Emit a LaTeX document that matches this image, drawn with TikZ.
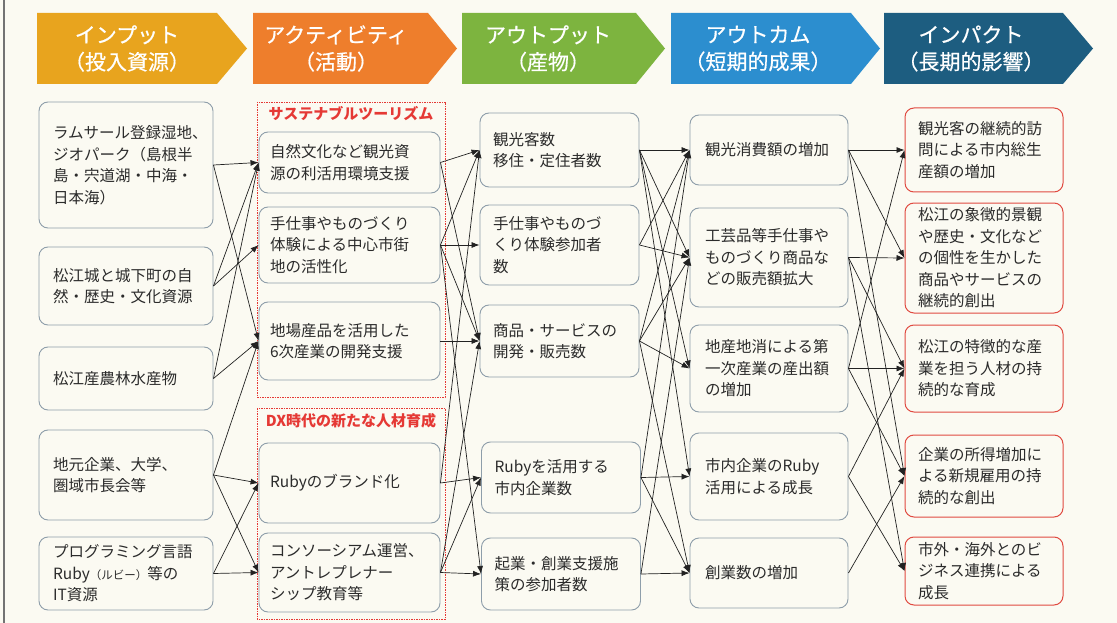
\documentclass[tikz,border=0pt]{standalone}
\usepackage{fontspec}
\setmainfont{Noto Sans CJK JP}
\usetikzlibrary{arrows.meta}
\definecolor{bgc}{HTML}{FBFAF2}
\definecolor{boxc}{HTML}{8E9EAA}
\definecolor{pred}{HTML}{E04A40}
\definecolor{txt}{HTML}{2B2B2B}
\definecolor{linec}{HTML}{222222}
\definecolor{rdash}{HTML}{E53935}
\definecolor{h1c}{HTML}{E8A41E}
\definecolor{h2c}{HTML}{EE7E2C}
\definecolor{h3c}{HTML}{7DB43F}
\definecolor{h4c}{HTML}{2C8ECF}
\definecolor{h5c}{HTML}{1D5D80}
\begin{document}
\begin{tikzpicture}[x=1pt,y=-1pt,
  box/.style={draw=boxc, line width=0.9pt, rounded corners=9pt, align=left, text=txt,
    font=\fontsize{15.5}{21.5}\selectfont, inner ysep=2pt},
  pbox/.style={box, draw=pred, line width=1pt},
  conn/.style={draw=linec, line width=0.7pt, -{Latex[length=8pt,width=6pt]}},
  hdr/.style={text=white, align=center, font=\fontsize{21}{27}\selectfont\addfontfeature{FakeBold=0.6}},
  grp/.style={draw=rdash, line width=0.6pt, dash pattern=on 1.5pt off 1pt},
  grpt/.style={text=rdash, font=\bfseries\fontsize{15}{17}\selectfont}
]
\fill[bgc] (0,0) rectangle (1117,623);
\useasboundingbox (0,0) rectangle (1117,623);
\draw[black!55, line width=1.2pt] (4,0) -- (4,623);

% headers
\fill[h1c] (37,13) -- (217,13) -- (247,48.5) -- (217,84) -- (37,84) -- cycle;
\fill[h2c] (253,13) -- (428,13) -- (457,48.5) -- (428,84) -- (253,84) -- cycle;
\fill[h3c] (462,13) -- (636,13) -- (665,48.5) -- (636,84) -- (462,84) -- cycle;
\fill[h4c] (671,13) -- (851,13) -- (880,48.5) -- (851,84) -- (671,84) -- cycle;
\fill[h5c] (884,13) -- (1063,13) -- (1093,48.5) -- (1063,84) -- (884,84) -- cycle;
\node[hdr] (h1) at (127,48.5) {インプット\\（投入資源）};
\node[hdr] (h2) at (336,48.5) {アクティビティ\\（活動）};
\node[hdr] (h3) at (548,48.5) {アウトプット\\（産物）};
\node[hdr] (h4) at (758,48.5) {アウトカム\\（短期的成果）};
\node[hdr] (h5) at (971,48.5) {インパクト\\（長期的影響）};

% group frames
\draw[grp] (257,102) rectangle (445,397);
\draw[grp] (257,408) rectangle (445,619);
\node[grpt] (g1) at (351,114) {サステナブルツーリズム};
\node[grpt] (g2) at (351,421) {DX時代の新たな人材育成};

% inputs
\node[box, minimum width=174pt, minimum height=126pt, text width=146pt] (I1) at (126,165)
  {ラムサール登録湿地、\\ジオパーク（島根半\\島・宍道湖・中海・\\日本海）};
\node[box, minimum width=174pt, minimum height=78pt, text width=146pt] (I2) at (126,286)
  {松江城と城下町の自\\然・歴史・文化資源};
\node[box, minimum width=174pt, minimum height=63pt, text width=146pt] (I3) at (126,378.5)
  {松江産農林水産物};
\node[box, minimum width=174pt, minimum height=90pt, text width=146pt] (I4) at (126,475)
  {地元企業、大学、\\圏域市長会等};
\node[box, minimum width=174pt, minimum height=73pt, text width=146pt] (I5) at (126,573.5)
  {プログラミング言語\\Ruby{\fontsize{11.5}{12}\selectfont（ルビー）}等の\\IT資源};

% activities
\node[box, minimum width=181pt, minimum height=61pt, text width=159pt] (A1) at (349.5,162.5)
  {自然文化など観光資\\源の利活用環境支援};
\node[box, minimum width=181pt, minimum height=76pt, text width=159pt] (A2) at (349.5,245)
  {手仕事やものづくり\\体験による中心市街\\地の活性化};
\node[box, minimum width=181pt, minimum height=78pt, text width=159pt] (A3) at (349.5,341)
  {地場産品を活用した\\6次産業の開発支援};
\node[box, minimum width=181pt, minimum height=80pt, text width=159pt] (A4) at (349.5,483)
  {Rubyのブランド化};
\node[box, minimum width=181pt, minimum height=79pt, text width=159pt] (A5) at (349.5,572.5)
  {コンソーシアム運営、\\アントレプレナー\\シップ教育等};

% outputs
\node[box, minimum width=159pt, minimum height=74pt, text width=133pt] (O1) at (559.5,150)
  {観光客数\\移住・定住者数};
\node[box, minimum width=159pt, minimum height=80pt, text width=133pt] (O2) at (559.5,245)
  {手仕事やものづ\\くり体験参加者\\数};
\node[box, minimum width=159pt, minimum height=72pt, text width=133pt] (O3) at (559.5,341)
  {商品・サービスの\\開発・販売数};
\node[box, minimum width=159pt, minimum height=71pt, text width=133pt] (O4) at (561,477.5)
  {Rubyを活用する\\市内企業数};
\node[box, minimum width=159pt, minimum height=72pt, text width=133pt] (O5) at (561,574)
  {起業・創業支援施\\策の参加者数};

% outcomes
\node[box, minimum width=158pt, minimum height=70pt, text width=128pt] (C1) at (769,150)
  {観光消費額の増加};
\node[box, minimum width=158pt, minimum height=99pt, text width=128pt] (C2) at (769,257.5)
  {工芸品等手仕事や\\ものづくり商品な\\どの販売額拡大};
\node[box, minimum width=158pt, minimum height=87pt, text width=128pt] (C3) at (769,368.5)
  {地産地消による第\\一次産業の産出額\\の増加};
\node[box, minimum width=158pt, minimum height=87pt, text width=128pt] (C4) at (769,476.5)
  {市内企業のRuby\\活用による成長};
\node[box, minimum width=158pt, minimum height=70pt, text width=128pt] (C5) at (769,573)
  {創業数の増加};

% impacts
\node[pbox, minimum width=158pt, minimum height=84pt, text width=132pt] (P1) at (984,150)
  {観光客の継続的訪\\問による市内総生\\産額の増加};
\node[pbox, minimum width=158pt, minimum height=110pt, text width=132pt] (P2) at (984,258)
  {松江の象徴的景観\\や歴史・文化など\\の個性を生かした\\商品やサービスの\\継続的創出};
\node[pbox, minimum width=158pt, minimum height=87pt, text width=132pt] (P3) at (984,368.5)
  {松江の特徴的な産\\業を担う人材の持\\続的な育成};
\node[pbox, minimum width=158pt, minimum height=82pt, text width=132pt] (P4) at (984,476)
  {企業の所得増加に\\よる新規雇用の持\\続的な創出};
\node[pbox, minimum width=158pt, minimum height=68pt, text width=132pt] (P5) at (984,571)
  {市外・海外とのビ\\ジネス連携による\\成長};

% inputs -> activities
\draw[conn] (I1.east) -- (A1.west);
\draw[conn] (I1.east) -- (A3.west);
\draw[conn] (I2.east) -- (A1.west);
\draw[conn] (I2.east) -- (A2.west);
\draw[conn] (I3.east) -- (A1.west);
\draw[conn] (I3.east) -- (A3.west);
\draw[conn] (I4.east) -- (A3.west);
\draw[conn] (I4.east) -- (A4.west);
\draw[conn] (I4.east) -- (A5.west);
\draw[conn] (I5.east) -- (A4.west);
\draw[conn] (I5.east) -- (A5.west);

% activities -> outputs
\draw[conn] (A1.east) -- (O1.west);
\draw[conn] (A1.east) -- (O3.west);
\draw[conn] (A2.east) -- (O1.west);
\draw[conn] (A2.east) -- (O2.west);
\draw[conn] (A2.east) -- (O3.west);
\draw[conn] (A2.east) -- (O5.west);
\draw[conn] (A3.east) -- (O3.west);
\draw[conn] (A4.east) -- (O1.west);
\draw[conn] (A4.east) -- (O4.west);
\draw[conn] (A5.east) -- (O3.west);
\draw[conn] (A5.east) -- (O4.west);
\draw[conn] (A5.east) -- (O5.west);

% outputs -> outcomes
\draw[conn] (O1.east) -- (C1.west);
\draw[conn] (O1.east) -- (C2.west);
\draw[conn] (O1.east) -- (C3.west);
\draw[conn] (O1.east) -- (C4.west);
\draw[conn] (O2.east) -- (C1.west);
\draw[conn] (O2.east) -- (C2.west);
\draw[conn] (O3.east) -- (C1.west);
\draw[conn] (O3.east) -- (C2.west);
\draw[conn] (O3.east) -- (C3.west);
\draw[conn] (O3.east) -- (C5.west);
\draw[conn] (O4.east) -- (C1.west);
\draw[conn] (O4.east) -- (C4.west);
\draw[conn] (O4.east) -- (C5.west);
\draw[conn] (O5.east) -- (C2.west);
\draw[conn] (O5.east) -- (C5.west);

% outcomes -> impacts
\draw[conn] (C1.east) -- (P1.west);
\draw[conn] (C1.east) -- (P2.west);
\draw[conn] (C1.east) -- (P4.west);
\draw[conn] (C2.east) -- (P2.west);
\draw[conn] (C2.east) -- (P3.west);
\draw[conn] (C2.east) -- (P5.west);
\draw[conn] (C3.east) -- (P1.west);
\draw[conn] (C3.east) -- (P3.west);
\draw[conn] (C3.east) -- (P4.west);
\draw[conn] (C4.east) -- (P3.west);
\draw[conn] (C4.east) -- (P5.west);
\draw[conn] (C5.east) -- (P4.west);
\end{tikzpicture}
\end{document}
